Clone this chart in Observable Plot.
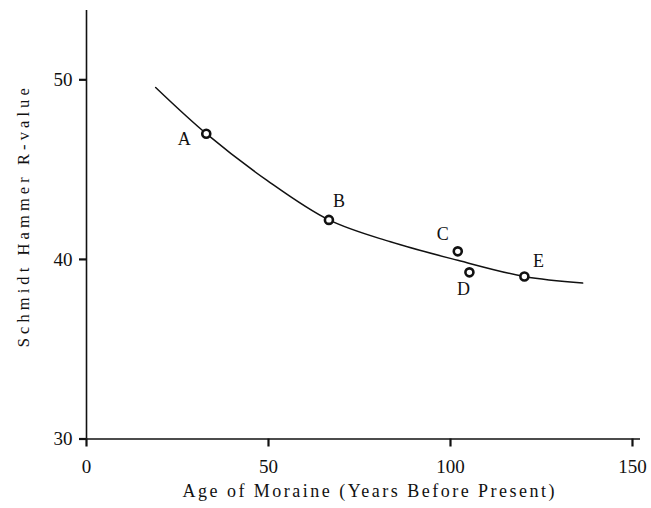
<!DOCTYPE html>
<html>
<head>
<meta charset="utf-8">
<script src="https://cdn.jsdelivr.net/npm/d3@7"></script>
<script src="https://cdn.jsdelivr.net/npm/@observablehq/plot@0.6"></script>
<style>
  html, body { margin: 0; padding: 0; background: #fff; }
  #chart svg { display: block; }
</style>
</head>
<body>
<div id="chart"></div>
<script>
// Fitted curve
const curveAge = [19, 32.9, 49.6, 66.6, 83.5, 102, 120.3, 136.3];
const curveR   = [49.57, 47.0, 44.4, 42.2, 40.98, 39.95, 39.05, 38.68];

// Moraine sites
const siteLabels = ["A", "B", "C", "D", "E"];
const siteAge    = [32.9, 66.6, 102, 105.2, 120.3];
const siteR      = [47.0, 42.2, 40.45, 39.28, 39.05];

// Axes
const xTicks = [0, 50, 100, 150];
const yTicks = [30, 40, 50];
const xTitle = "Age of Moraine (Years Before Present)";
const yTitle = "Schmidt Hammer R-value";

const curve = curveAge.map((a, i) => ({age: a, r: curveR[i]}));
const sites = siteLabels.map((s, i) => ({label: s, age: siteAge[i], r: siteR[i]}));

const labelOffsets = {A: [-22, 6], B: [10, -19], C: [-15, -17], D: [-6, 17], E: [14, -15]};

const font = "'Liberation Serif', 'DejaVu Serif', serif";

const plot = Plot.plot({
  width: 651,
  height: 508,
  marginLeft: 86,
  marginRight: 11,
  marginTop: 10,
  marginBottom: 69.5,
  style: {fontFamily: font, background: "#fff", color: "#111"},
  x: {domain: [0, 152.2]},
  y: {domain: [30, 53.86]},
  marks: [
    Plot.ruleY([30], {stroke: "#111", strokeWidth: 1.6}),
    Plot.ruleX([0], {stroke: "#111", strokeWidth: 1.6}),
    Plot.axisX({ticks: xTicks, tickSize: 8, tickPadding: 12, fontSize: 19, label: null, strokeWidth: 2.2, tickFormat: d => d}),
    Plot.axisY({ticks: yTicks, tickSize: 7, tickPadding: 7, fontSize: 19, label: null, strokeWidth: 2.2, tickFormat: d => d}),
    Plot.line(curve, {x: "age", y: "r", curve: "catmull-rom", stroke: "#111", strokeWidth: 1.5}),
    Plot.dot(sites, {x: "age", y: "r", r: 4, stroke: "#111", strokeWidth: 2.6, fill: "#fff"}),
    ...siteLabels.map(s => Plot.text(sites.filter(d => d.label === s), {
      x: "age", y: "r", text: "label", dx: labelOffsets[s][0], dy: labelOffsets[s][1],
      fontSize: 18, fill: "#111"
    })),
    Plot.text([xTitle], {frameAnchor: "bottom", dx: 5, dy: 58, fontSize: 18, fill: "#111"}),
    Plot.text([yTitle], {frameAnchor: "left", dx: -63, dy: -7, rotate: -90, fontSize: 16.5, fill: "#111"})
  ]
});
document.getElementById("chart").appendChild(plot);

// Spread the titles to the reference's letter-spaced widths
d3.select(plot).selectAll("text").each(function () {
  const t = this.textContent;
  if (t === xTitle) {
    d3.select(this).attr("text-anchor", "start").attr("x", -186)
      .attr("textLength", 372).attr("lengthAdjust", "spacing");
  }
  if (t === yTitle) {
    d3.select(this).attr("text-anchor", "start").attr("x", -129.5)
      .attr("textLength", 259).attr("lengthAdjust", "spacing");
  }
});
</script>
</body>
</html>
